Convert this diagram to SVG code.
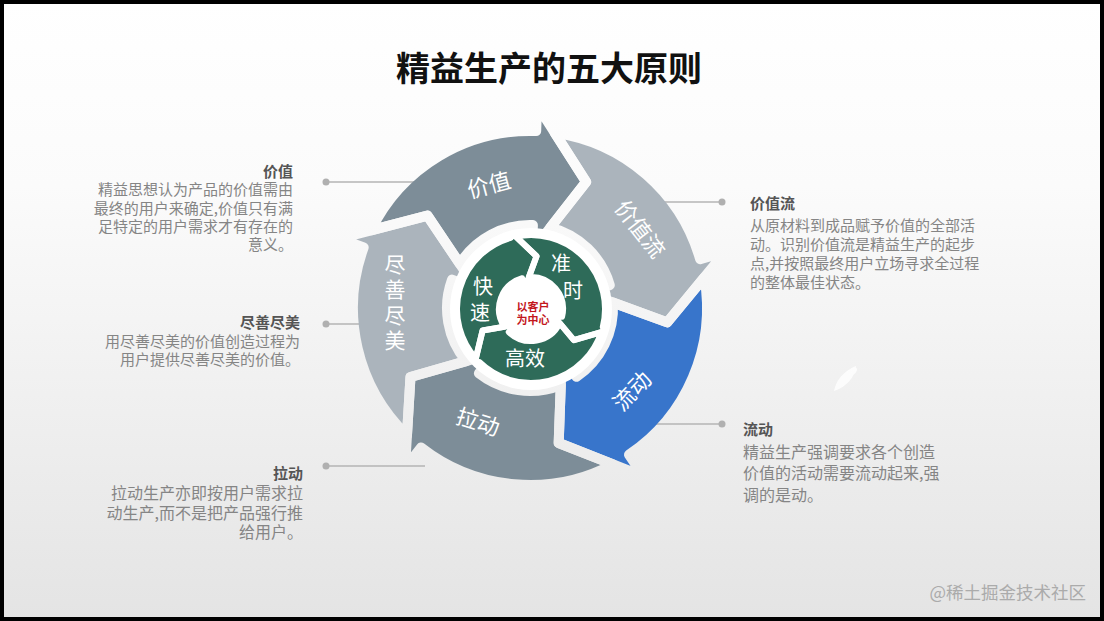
<svg xmlns="http://www.w3.org/2000/svg" xmlns:xlink="http://www.w3.org/1999/xlink" width="1104" height="621" viewBox="0 0 1104 621">
<style>
.cjk{font-family:"Noto Sans CJK SC","Noto Sans",sans-serif}
.lbl{fill:#ffffff;font-size:22px;text-anchor:middle}
.vlbl{fill:#ffffff;font-size:21px;text-anchor:middle}
.glbl{fill:#ffffff;font-size:20px;text-anchor:middle}
.ttl{fill:#555555;font-size:15px;font-weight:bold}
.body{fill:#858585;font-size:15px}
.body16{fill:#858585;font-size:16px}
.conn{stroke:#b4b4b4;stroke-width:1.5;fill:none}
.dot{fill:#b0b0b0}
</style>
<defs>
<linearGradient id="bg" x1="0" y1="0" x2="0" y2="1">
<stop offset="0" stop-color="#ffffff"/>
<stop offset="0.3" stop-color="#fbfbfb"/>
<stop offset="1" stop-color="#e4e4e4"/>
</linearGradient>
<path id="dA1" d="M 370.95 230.33 A 177 177 0 0 1 536.18 131.11 L 537.08 105.12 L 586.13 181.93 L 531.99 251.03 L 532.90 225.05 A 83 83 0 0 0 459.77 263.75 L 427.45 215.66 Z"/>
<path id="dA2" d="M 554.73 132.73 A 177 177 0 0 1 700.15 259.21 L 725.14 252.05 L 667.24 322.42 L 584.79 292.29 L 609.79 285.12 A 83 83 0 0 0 550.39 227.54 L 586.13 181.93 Z"/>
<path id="dA3" d="M 704.33 277.36 A 177 177 0 0 1 628.98 454.73 L 643.52 476.29 L 558.69 442.98 L 561.87 355.25 L 576.41 376.81 A 83 83 0 0 0 612.82 302.53 L 667.24 322.42 Z"/>
<path id="dA4" d="M 613.00 464.33 A 177 177 0 0 1 421.02 447.48 L 405.01 467.96 L 410.49 377.00 L 494.91 352.92 L 478.90 373.40 A 83 83 0 0 0 560.79 385.07 L 558.69 442.98 Z"/>
<path id="dA5" d="M 406.97 435.25 A 177 177 0 0 1 363.67 247.47 L 339.24 238.57 L 427.45 215.66 L 476.44 288.51 L 452.00 279.61 A 83 83 0 0 0 466.21 361.13 L 410.49 377.00 Z"/>
<path id="dG1" d="M 475.86 358.34 A 74 74 0 0 1 510.61 237.86 L 508.12 229.21 L 536.54 256.29 L 524.94 287.85 L 522.18 278.24 A 32 32 0 0 0 504.40 326.79 L 482.58 330.56 Z"/>
<path id="dG2" d="M 515.84 236.57 A 74 74 0 0 1 602.80 326.90 L 611.53 329.08 L 573.88 340.15 L 552.35 314.32 L 562.05 316.74 A 32 32 0 0 0 528.90 277.07 L 536.54 256.29 Z"/>
<path id="dG3" d="M 601.31 332.09 A 74 74 0 0 1 479.59 362.23 L 473.34 368.70 L 482.58 330.56 L 515.72 324.82 L 508.77 332.02 A 32 32 0 0 0 559.70 323.14 L 573.88 340.15 Z"/>
<mask id="mOuter" maskUnits="userSpaceOnUse" x="0" y="0" width="1104" height="621">
<rect x="0" y="0" width="1104" height="621" fill="#ffffff"/>
<g fill="none" stroke="#000000" stroke-width="10" stroke-linejoin="round">
<use href="#dA1"/><use href="#dA2"/><use href="#dA3"/><use href="#dA4"/><use href="#dA5"/>
</g>
</mask>
<mask id="mInner" maskUnits="userSpaceOnUse" x="0" y="0" width="1104" height="621">
<rect x="0" y="0" width="1104" height="621" fill="#ffffff"/>
<g fill="none" stroke="#000000" stroke-width="6" stroke-linejoin="round">
<use href="#dG1"/><use href="#dG2"/><use href="#dG3"/>
</g>
</mask>
</defs>

<rect x="0" y="0" width="1104" height="621" fill="url(#bg)"/>

<text class="cjk" x="549" y="81" font-size="34" font-weight="bold" fill="#111111" text-anchor="middle">精益生产的五大原则</text>

<g id="connectors">
<line class="conn" x1="326" y1="182" x2="420" y2="182"/>
<circle class="dot" cx="326" cy="182" r="3.5"/>
<line class="conn" x1="326" y1="324" x2="370" y2="324"/>
<circle class="dot" cx="326" cy="324" r="3.5"/>
<line class="conn" x1="326" y1="466" x2="425" y2="466"/>
<circle class="dot" cx="326" cy="466" r="3.5"/>
<line class="conn" x1="655" y1="202" x2="722" y2="202"/>
<circle class="dot" cx="722" cy="202" r="3.5"/>
<line class="conn" x1="650" y1="424" x2="722" y2="424"/>
<circle class="dot" cx="722" cy="424" r="3.5"/>
</g>

<g id="node-jiazhi">
<use href="#dA1" fill="#7d8d98" mask="url(#mOuter)"/>
<text class="cjk lbl" transform="translate(489,185) rotate(-15)" y="8">价值</text>
</g>
<g id="node-jiazhiliu">
<use href="#dA2" fill="#abb4bc" mask="url(#mOuter)"/>
<text class="cjk lbl" transform="translate(640,229) rotate(52)" y="8">价值流</text>
</g>
<g id="node-liudong">
<use href="#dA3" fill="#3875cb" mask="url(#mOuter)"/>
<text class="cjk lbl" transform="translate(632,391) rotate(-46)" y="8">流动</text>
</g>
<g id="node-ladong">
<use href="#dA4" fill="#7d8d98" mask="url(#mOuter)"/>
<text class="cjk lbl" transform="translate(478,422) rotate(18)" y="8">拉动</text>
</g>
<g id="node-jinshanjinmei">
<use href="#dA5" fill="#abb4bc" mask="url(#mOuter)"/>
<text class="cjk vlbl" x="395" y="271.5">尽</text>
<text class="cjk vlbl" x="395" y="297">善</text>
<text class="cjk vlbl" x="395" y="322.5">尽</text>
<text class="cjk vlbl" x="395" y="348">美</text>
</g>

<circle cx="531" cy="309" r="81" fill="#ffffff"/>

<g id="node-kuaisu">
<use href="#dG1" fill="#2e6b59" mask="url(#mInner)"/>
<text class="cjk glbl" x="483" y="294">快</text>
<text class="cjk glbl" x="480" y="320">速</text>
</g>
<g id="node-zhunshi">
<use href="#dG2" fill="#2e6b59" mask="url(#mInner)"/>
<text class="cjk glbl" x="561" y="271">准</text>
<text class="cjk glbl" x="573" y="298">时</text>
</g>
<g id="node-gaoxiao">
<use href="#dG3" fill="#2e6b59" mask="url(#mInner)"/>
<text class="cjk glbl" x="525" y="366" font-size="21">高效</text>
</g>
<g id="node-center">
<text class="cjk" x="533" y="310.5" font-size="11" font-weight="bold" fill="#c3161c" text-anchor="middle">以客户</text>
<text class="cjk" x="533" y="323.5" font-size="11" font-weight="bold" fill="#c3161c" text-anchor="middle">为中心</text>
</g>

<g id="desc-jiazhi" class="cjk" text-anchor="end">
<text class="ttl" x="293" y="177">价值</text>
<text class="body"><tspan x="293" y="195">精益思想认为产品的价值需由</tspan><tspan x="293" y="213.5">最终的用户来确定,价值只有满</tspan><tspan x="293" y="232">足特定的用户需求才有存在的</tspan><tspan x="293" y="250">意义。</tspan></text>
</g>
<g id="desc-jinshanjinmei" class="cjk" text-anchor="end">
<text class="ttl" x="300" y="328">尽善尽美</text>
<text class="body"><tspan x="300" y="347">用尽善尽美的价值创造过程为</tspan><tspan x="300" y="365">用户提供尽善尽美的价值。</tspan></text>
</g>
<g id="desc-ladong" class="cjk" text-anchor="end">
<text class="ttl" x="303" y="479">拉动</text>
<text class="body16"><tspan x="303" y="499">拉动生产亦即按用户需求拉</tspan><tspan x="303" y="519">动生产,而不是把产品强行推</tspan><tspan x="303" y="538">给用户。</tspan></text>
</g>
<g id="desc-jiazhiliu" class="cjk">
<text class="ttl" x="750" y="209">价值流</text>
<text class="body"><tspan x="750" y="231">从原材料到成品赋予价值的全部活</tspan><tspan x="750" y="250">动。识别价值流是精益生产的起步</tspan><tspan x="750" y="269">点,并按照最终用户立场寻求全过程</tspan><tspan x="750" y="288">的整体最佳状态。</tspan></text>
</g>
<g id="desc-liudong" class="cjk">
<text class="ttl" x="743" y="435" font-size="16">流动</text>
<text class="body16"><tspan x="743" y="458">精益生产强调要求各个创造</tspan><tspan x="743" y="479">价值的活动需要流动起来,强</tspan><tspan x="743" y="501">调的是动。</tspan></text>
</g>

<g id="leaf" fill="#ffffff" opacity="0.85">
<path d="M 834 391 C 836 380 844 371 856 366 C 855 376 848 386 834 391 Z"/>
<ellipse cx="852" cy="372" rx="6" ry="3" transform="rotate(-40 852 372)"/>
</g>

<text class="cjk" x="1086" y="599" font-size="17.5" fill="#ababab" text-anchor="end">@稀土掘金技术社区</text>

<rect x="2" y="2" width="1100" height="617" fill="none" stroke="#000000" stroke-width="4"/>
</svg>
